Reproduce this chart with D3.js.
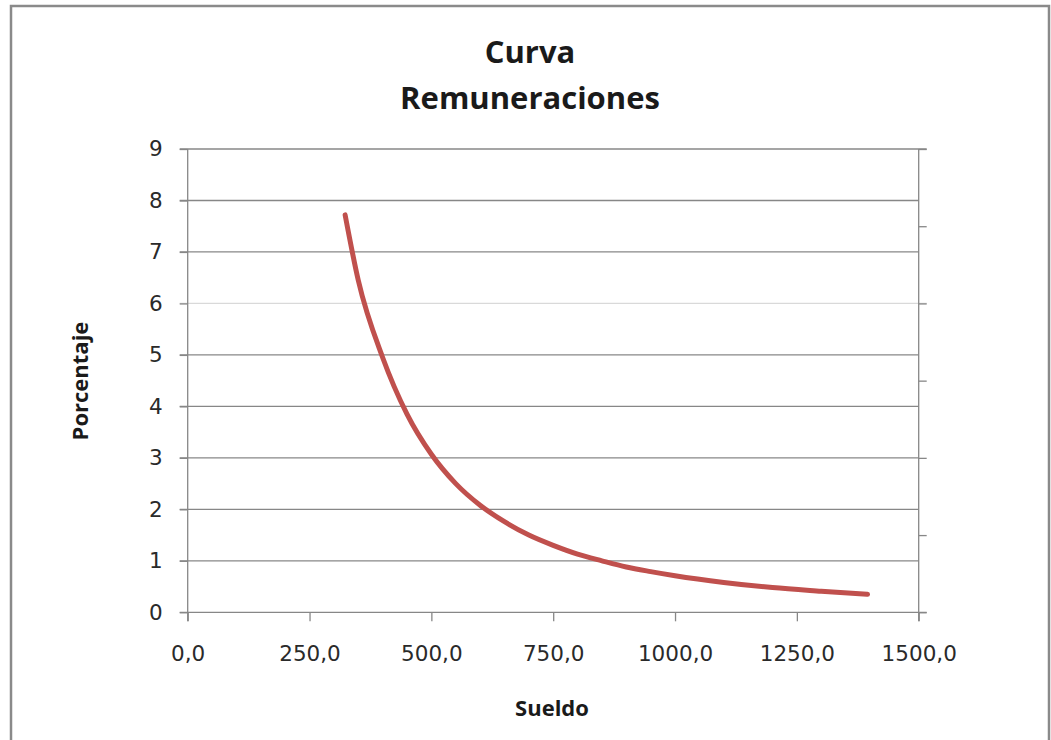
<!DOCTYPE html>
<html>
<head>
<meta charset="utf-8">
<script src="https://cdn.jsdelivr.net/npm/d3@7"></script>
<style>
  body { margin: 0; background: #fff; }
  svg { display: block; }
</style>
</head>
<body>
<div id="chart"></div>
<script>
// values
var sueldo = [323, 350, 400, 450, 500, 550, 600, 650, 700, 750, 800, 850, 900, 950, 1000, 1100, 1200, 1300, 1395];
var porcentaje = [7.72, 6.45, 4.95, 3.85, 3.07, 2.5, 2.08, 1.76, 1.5, 1.3, 1.13, 1.0, 0.88, 0.79, 0.71, 0.58, 0.48, 0.41, 0.35];
var xTicks = [0, 250, 500, 750, 1000, 1250, 1500];
var yTicks = [0, 1, 2, 3, 4, 5, 6, 7, 8, 9];
var rightTicks = [0, 1.5, 3, 4.5, 6, 7.5, 9];

(function() {
  var width = 1051,
    height = 740;

  var svg = d3.select("#chart")
    .append("svg")
    .attr("width", width)
    .attr("height", height);

  // outer frame
  svg.append("rect")
    .attr("x", 11).attr("y", 6)
    .attr("width", 1038).attr("height", 760)
    .attr("fill", "none")
    .attr("stroke", "#8a8a8a")
    .attr("stroke-width", 2.5);

  var pLeft = 187.7, pRight = 918.7, pTop = 149, pBottom = 612.3;

  var x = d3.scaleLinear().domain([0, 1500]).range([pLeft, pRight]);
  var y = d3.scaleLinear().domain([0, 9]).range([pBottom, pTop]);

  var grey = "#878787";

  // gridlines
  svg.append("g")
    .selectAll("line")
    .data(yTicks.filter(function(d) { return d > 0; }))
    .enter().append("line")
    .attr("x1", pLeft - 8)
    .attr("x2", function(d) { return (d == 9 || d == 6) ? pRight + 8 : pRight; })
    .attr("y1", function(d) { return y(d); })
    .attr("y2", function(d) { return y(d); })
    .attr("stroke", function(d) { return d == 6 ? "#d9d9d9" : grey; })
    .attr("stroke-width", 1.3);

  // left axis
  var yAxis = svg.append("g")
    .attr("transform", "translate(" + pLeft + ",0)")
    .call(d3.axisLeft(y).tickValues(yTicks).tickSize(8).tickPadding(17).tickFormat(d3.format("d")));

  // bottom axis
  var xAxis = svg.append("g")
    .attr("transform", "translate(0," + pBottom + ")")
    .call(d3.axisBottom(x).tickValues(xTicks).tickSize(9).tickPadding(24)
      .tickFormat(function(d) { return d3.format(".1f")(d).replace(".", ","); }));

  // right axis, no labels
  var rAxis = svg.append("g")
    .attr("transform", "translate(" + pRight + ",0)")
    .call(d3.axisRight(d3.scaleLinear().domain([0, 9]).range([pBottom, pTop]))
      .tickValues(rightTicks).tickSize(8).tickFormat(""));

  [yAxis, xAxis, rAxis].forEach(function(g) {
    g.select(".domain").remove();
    g.selectAll(".tick line").attr("stroke", grey).attr("stroke-width", 1.3);
    g.selectAll("text")
      .attr("fill", "#2a2a2a")
      .attr("font-family", "DejaVu Sans")
      .attr("font-size", 21.5);
  });

  // axis lines
  svg.append("line")
    .attr("x1", pLeft).attr("x2", pLeft)
    .attr("y1", pTop).attr("y2", pBottom + 9)
    .attr("stroke", grey).attr("stroke-width", 1.3);
  svg.append("line")
    .attr("x1", pRight).attr("x2", pRight)
    .attr("y1", pTop).attr("y2", pBottom + 9)
    .attr("stroke", grey).attr("stroke-width", 1.3);
  svg.append("line")
    .attr("x1", pLeft - 8).attr("x2", pRight + 8)
    .attr("y1", pBottom).attr("y2", pBottom)
    .attr("stroke", grey).attr("stroke-width", 1.3);

  // curve
  var pts = sueldo.map(function(s, i) { return [s, porcentaje[i]]; });
  var line = d3.line()
    .x(function(d) { return x(d[0]); })
    .y(function(d) { return y(d[1]); })
    .curve(d3.curveMonotoneX);

  svg.append("path")
    .datum(pts)
    .attr("d", line)
    .attr("fill", "none")
    .attr("stroke", "#c0504d")
    .attr("stroke-width", 5)
    .attr("stroke-linecap", "round");

  // titles
  var title = svg.append("text")
    .attr("text-anchor", "middle")
    .attr("font-family", "Open Sans")
    .attr("font-weight", "bold")
    .attr("font-size", 31)
    .attr("fill", "#1a1a1a");
  title.append("tspan").attr("x", 530).attr("y", 63).text("Curva");
  title.append("tspan").attr("x", 530).attr("y", 109).text("Remuneraciones");

  svg.append("text")
    .attr("transform", "translate(88,381) rotate(-90)")
    .attr("text-anchor", "middle")
    .attr("font-family", "Open Sans")
    .attr("font-weight", "bold")
    .attr("font-size", 22)
    .attr("fill", "#1a1a1a")
    .text("Porcentaje");

  svg.append("text")
    .attr("x", 552).attr("y", 716)
    .attr("text-anchor", "middle")
    .attr("font-family", "Open Sans")
    .attr("font-weight", "bold")
    .attr("font-size", 22)
    .attr("fill", "#1a1a1a")
    .text("Sueldo");
})();
</script>
</body>
</html>
